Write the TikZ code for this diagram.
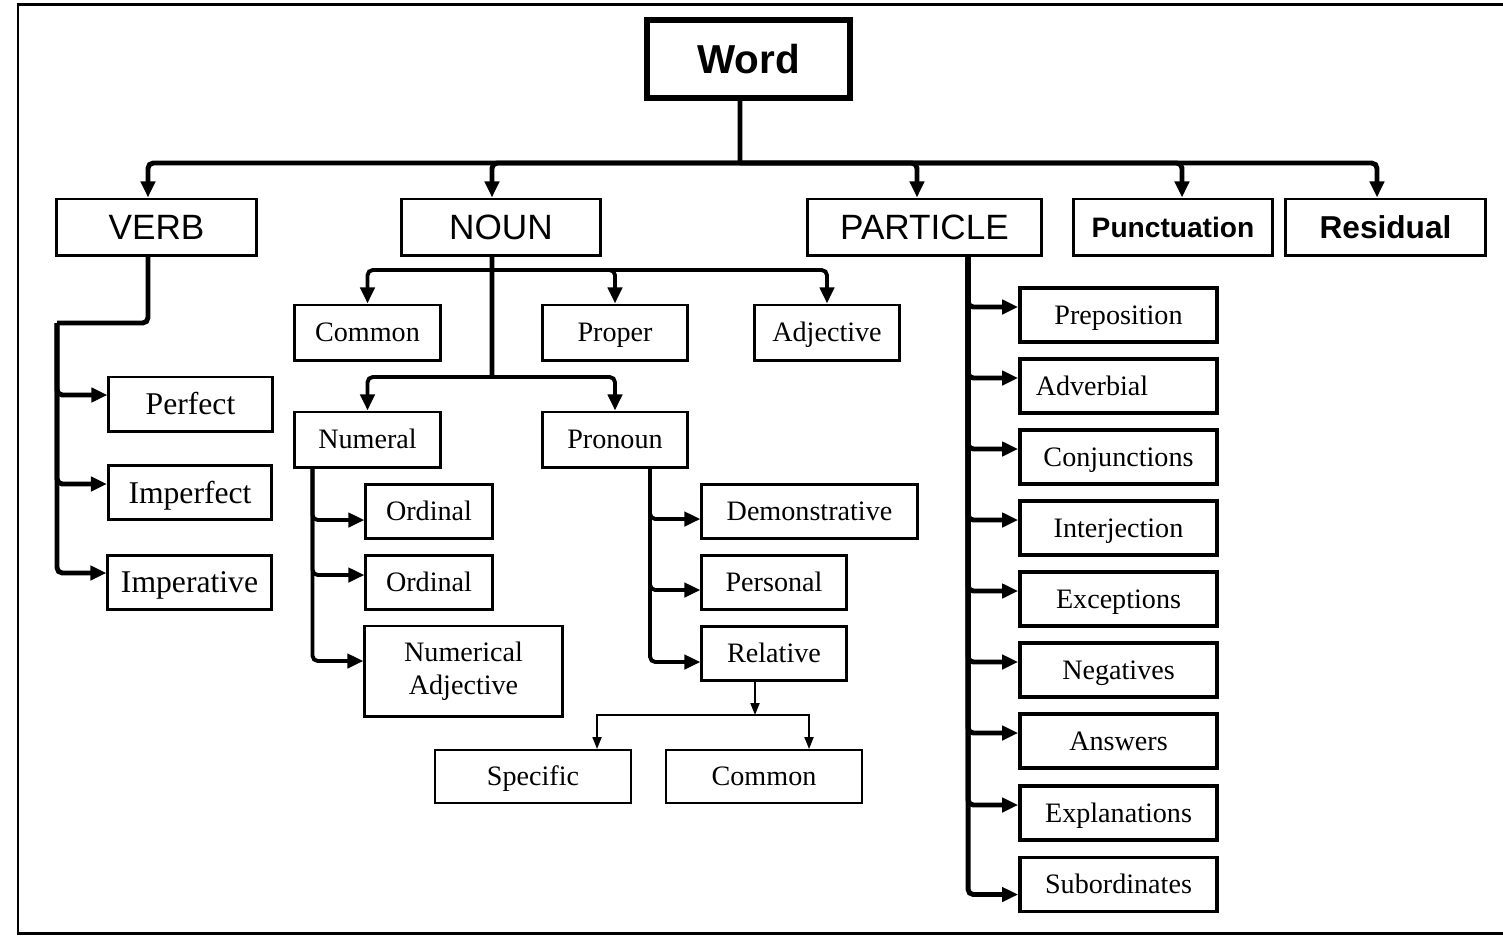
\documentclass[tikz,border=0pt]{standalone}
\usepackage{fontspec}
\setmainfont{Liberation Serif}
\newfontfamily\arialfont{Liberation Sans}
\usetikzlibrary{arrows.meta}
\begin{document}
\begin{tikzpicture}[x=0.01cm,y=-0.01cm,
  box/.style={draw,line width=0.85pt,inner sep=0pt,minimum height=0.55cm,text height=6.3pt,text depth=1pt,font=\fontsize{8}{9.5}\selectfont},
  headbox/.style={box,minimum height=0.56cm,text height=8.2pt,font=\arialfont\fontsize{10}{12}\selectfont},
  verbbox/.style={box,minimum width=1.63cm,minimum height=0.54cm,text height=7pt,font=\fontsize{9}{11}\selectfont},
  lowbox/.style={box,line width=0.55pt,minimum width=1.96cm,minimum height=0.53cm},
  partbox/.style={box,line width=1pt,minimum width=1.97cm,minimum height=0.54cm},
  wideline/.style={line width=1.4pt,rounded corners=1.5pt},
  midline/.style={line width=1.1pt,rounded corners=1.5pt},
  thinline/.style={line width=0.55pt},
  bigtip/.style={-{Triangle[length=0.16cm,width=0.14cm]}},
  smalltip/.style={-{Triangle[length=0.12cm,width=0.09cm]}}]
\useasboundingbox (0,0) rectangle (1503,938);
\draw[line width=0.85pt] (1503,4) -- (18,4) -- (18,933) -- (1503,933);

\node[box,line width=1.7pt,minimum width=2.03cm,minimum height=0.78cm,text height=9.2pt,font=\arialfont\bfseries\fontsize{11.5}{13}\selectfont] (word) at (748.5,59) {Word};
\node[headbox,minimum width=1.99cm] (verb) at (156.5,227) {VERB};
\node[headbox,minimum width=1.98cm] (noun) at (501,227) {NOUN};
\node[headbox,minimum width=2.33cm] (particle) at (924.5,227) {PARTICLE};
\node[headbox,minimum width=1.98cm,text height=6.7pt,font=\arialfont\bfseries\fontsize{8}{10}\selectfont] (punct) at (1173,227) {Punctuation};
\node[headbox,minimum width=1.99cm,text height=7.4pt,font=\arialfont\bfseries\fontsize{9}{11}\selectfont] (resid) at (1385.5,227) {Residual};

\node[verbbox] (perfect) at (190.5,404) {Perfect};
\node[verbbox] (imperfect) at (190,492.5) {Imperfect};
\node[verbbox] (imperative) at (189.5,582) {Imperative};

\node[box,minimum width=1.45cm] (common) at (367.5,332.5) {Common};
\node[box,minimum width=1.44cm] (proper) at (615,332.5) {Proper};
\node[box,minimum width=1.44cm] (adj) at (827,332.5) {Adjective};
\node[box,minimum width=1.45cm] (numeral) at (367.5,439.5) {Numeral};
\node[box,minimum width=1.44cm] (pronoun) at (615,439.5) {Pronoun};

\node[box,minimum width=1.26cm,minimum height=0.54cm] (ordA) at (429,511) {Ordinal};
\node[box,minimum width=1.26cm,minimum height=0.54cm] (ordB) at (429,582) {Ordinal};
\node[box,minimum width=1.97cm,minimum height=0.9cm,text height=,text depth=,align=center] (numadj) at (463.5,671) {Numerical\\Adjective};

\node[box,minimum width=2.15cm,minimum height=0.54cm] (demo) at (809.5,511) {Demonstrative};
\node[box,minimum width=1.44cm,minimum height=0.54cm] (personal) at (774,582) {Personal};
\node[box,minimum width=1.44cm,minimum height=0.54cm] (relative) at (774,653) {Relative};
\node[lowbox] (specific) at (533,776.5) {Specific};
\node[lowbox] (commonB) at (764,776.5) {Common};

\foreach \name/\txt/\y in {prep/Preposition/315,adv/Adverbial\hspace*{0.53cm}/386,conj/Conjunctions/457,inter/Interjection/528,exc/Exceptions/599,neg/Negatives/670,ans/Answers/741,expl/Explanations/813,sub/Subordinates/884.5}
  \node[partbox] (\name) at (1118.5,\y) {\txt};

\coordinate (bus) at (740,163);
\coordinate (vj) at (57,323);
\coordinate (nj) at (492,270);
\coordinate (nk) at (492,377);
\coordinate (rj) at (755,715);

\draw[wideline] ([xshift=-0.085cm]word.south) -- (bus);
\draw[wideline,bigtip] (bus) -| ([xshift=-0.085cm]verb.north);
\draw[wideline,bigtip] (bus) -| ([xshift=-0.09cm]noun.north);
\draw[wideline,bigtip] (bus) -| ([xshift=-0.075cm]particle.north);
\draw[wideline,bigtip] (bus) -| ([xshift=0.09cm]punct.north);
\draw[wideline,bigtip] (bus) -| ([xshift=-0.085cm]resid.north);

\draw[wideline] ([xshift=-0.085cm]verb.south) |- (vj);
\draw[wideline,bigtip] (vj) |- ([yshift=0.09cm]perfect.west);
\draw[wideline,bigtip] (vj) |- ([yshift=0.085cm]imperfect.west);
\draw[wideline,bigtip] (vj) |- ([yshift=0.09cm]imperative.west);

\draw[wideline] ([xshift=-0.09cm]noun.south) -- (nk);
\draw[midline,bigtip] (nj) -| (common.north);
\draw[midline,bigtip] (nj) -| (proper.north);
\draw[midline,bigtip] (nj) -| (adj.north);
\draw[midline,bigtip] (nk) -| (numeral.north);
\draw[midline,bigtip] (nk) -| (pronoun.north);

\draw[midline,bigtip] ([xshift=0.19cm]numeral.south west) |- ([yshift=-0.09cm]ordA.west);
\draw[midline,bigtip] ([xshift=0.19cm]numeral.south west) |- ([yshift=0.07cm]ordB.west);
\draw[midline,bigtip] ([xshift=0.19cm]numeral.south west) |- ([yshift=0.1cm]numadj.west);

\draw[midline,bigtip] ([xshift=0.35cm]pronoun.south) |- ([yshift=-0.08cm]demo.west);
\draw[midline,bigtip] ([xshift=0.35cm]pronoun.south) |- ([yshift=-0.08cm]personal.west);
\draw[midline,bigtip] ([xshift=0.35cm]pronoun.south) |- ([yshift=-0.09cm]relative.west);

\draw[thinline,smalltip] ([xshift=-0.19cm]relative.south) -- (rj);
\draw[thinline,smalltip] (rj) -| ([xshift=0.64cm]specific.north);
\draw[thinline,smalltip] (rj) -| ([xshift=0.45cm]commonB.north);

\foreach \n in {prep,adv,conj,inter,exc,neg,ans,expl}
  \draw[wideline,bigtip] ([xshift=0.435cm]particle.south) |- ([yshift=0.08cm]\n.west);
\draw[wideline,bigtip] ([xshift=0.435cm]particle.south) |- ([yshift=-0.1cm]sub.west);
\end{tikzpicture}
\end{document}
